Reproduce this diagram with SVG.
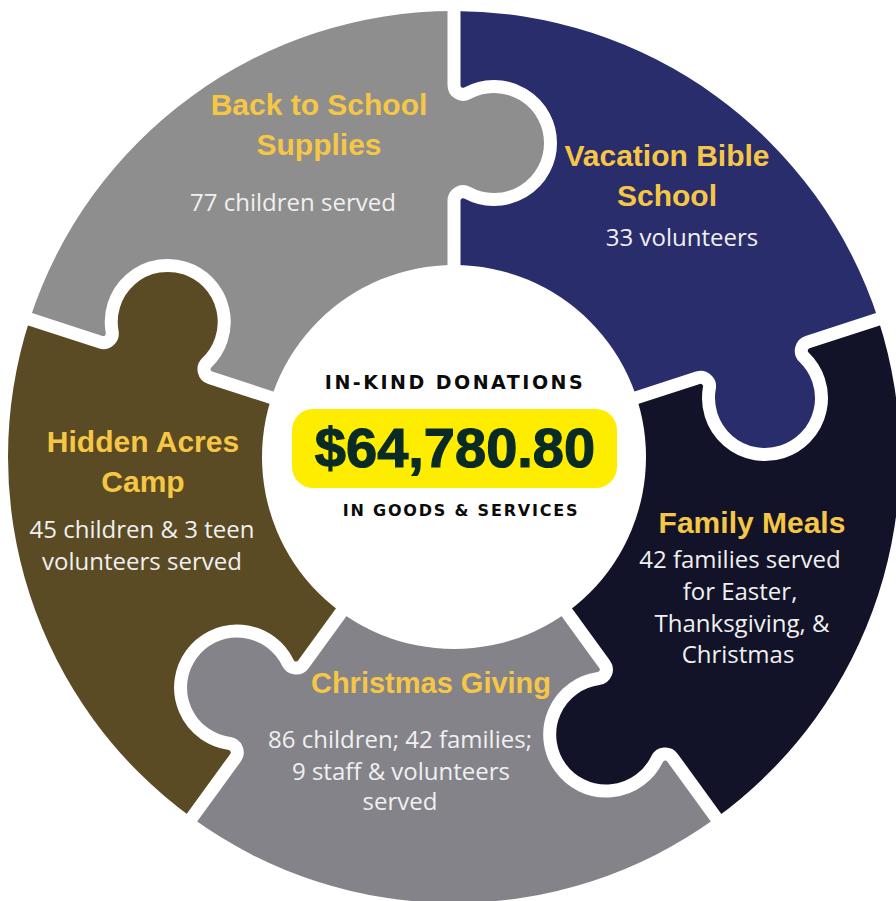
<svg xmlns="http://www.w3.org/2000/svg" width="896" height="901" viewBox="0 0 896 901">
<style>
.t{font-family:"Liberation Sans",Arial,sans-serif;font-weight:700;font-size:30px;fill:#f6c744;text-anchor:middle}
.b{font-family:"Open Sans","Liberation Sans",sans-serif;font-size:24px;fill:#f0f0f0;text-anchor:middle}
.h{font-family:"DejaVu Sans",sans-serif;font-weight:700;fill:#0b0b0b;text-anchor:middle}
.gap{fill:none;stroke:#ffffff;stroke-width:13;stroke-linejoin:round}
</style>
<defs>
<path id="divider" d="M150 0 L256.3 0 A9 9 0 0 1 264.23 13.26 A56.5 56.5 0 1 0 363.77 13.26 A9 9 0 0 1 371.7 0 L470 0"/>
</defs>
<rect width="896" height="901" fill="#ffffff"/>
<g id="back-to-school">
<path fill="#8e8e8e" d="M454 457 L210.24 377.80 A9 9 0 0 1 206.80 362.74 A56.5 56.5 0 1 0 112.13 331.98 A9 9 0 0 1 100.49 342.14 L29.83 319.18 A446 446 0 0 1 454 11 L454 85.30 A9 9 0 0 0 467.26 93.23 A56.5 56.5 0 1 1 467.26 192.77 A9 9 0 0 0 454 200.70 Z"/>
<text class="t" x="319" y="115">Back to School</text>
<text class="t" x="319" y="155">Supplies</text>
<text class="b" x="293" y="211">77 children served</text>
</g>
<g id="vacation-bible-school">
<path fill="#2a2d6c" d="M454 457 L454 200.70 A9 9 0 0 1 467.26 192.77 A56.5 56.5 0 1 0 467.26 93.23 A9 9 0 0 1 454 85.30 L454 11 A446 446 0 0 1 878.17 319.18 L807.51 342.14 A9 9 0 0 0 804.07 357.20 A56.5 56.5 0 1 1 709.40 387.96 A9 9 0 0 0 697.76 377.80 Z"/>
<text class="t" x="667" y="166">Vacation Bible</text>
<text class="t" x="667" y="206">School</text>
<text class="b" x="682" y="246">33 volunteers</text>
</g>
<g id="family-meals">
<path fill="#121328" d="M454 457 L697.76 377.80 A9 9 0 0 1 709.40 387.96 A56.5 56.5 0 1 0 804.07 357.20 A9 9 0 0 1 807.51 342.14 L878.17 319.18 A446 446 0 0 1 716.15 817.82 L672.48 757.71 A9 9 0 0 0 657.09 759.09 A56.5 56.5 0 1 1 598.58 678.56 A9 9 0 0 0 604.65 664.35 Z"/>
<text class="t" x="752" y="533">Family Meals</text>
<text class="b" x="740" y="568">42 families served</text>
<text class="b" x="740" y="600">for Easter,</text>
<text class="b" x="742" y="632">Thanksgiving, &amp;</text>
<text class="b" x="738" y="663">Christmas</text>
</g>
<g id="christmas-giving">
<path fill="#84838a" d="M454 457 L604.65 664.35 A9 9 0 0 1 598.58 678.56 A56.5 56.5 0 1 0 657.09 759.09 A9 9 0 0 1 672.48 757.71 L716.15 817.82 A446 446 0 0 1 191.85 817.82 L235.52 757.71 A9 9 0 0 0 229.45 743.51 A56.5 56.5 0 1 1 287.96 662.98 A9 9 0 0 0 303.35 664.35 Z"/>
<text class="t" x="431" y="693" style="font-size:29px">Christmas Giving</text>
<text class="b" x="400" y="748">86 children; 42 families;</text>
<text class="b" x="401" y="780">9 staff &amp; volunteers</text>
<text class="b" x="400" y="810">served</text>
</g>
<g id="hidden-acres-camp">
<path fill="#5a4b25" d="M454 457 L303.35 664.35 A9 9 0 0 1 287.96 662.98 A56.5 56.5 0 1 0 229.45 743.51 A9 9 0 0 1 235.52 757.71 L191.85 817.82 A446 446 0 0 1 29.83 319.18 L100.49 342.14 A9 9 0 0 0 112.13 331.98 A56.5 56.5 0 1 1 206.80 362.74 A9 9 0 0 0 210.24 377.80 Z"/>
<text class="t" x="143" y="452">Hidden Acres</text>
<text class="t" x="143" y="492">Camp</text>
<text class="b" x="142" y="538">45 children &amp; 3 teen</text>
<text class="b" x="142" y="570">volunteers served</text>
</g>
<g id="connectors">
<use href="#divider" class="gap" transform="translate(454 457) rotate(270)"/>
<use href="#divider" class="gap" transform="translate(454 457) rotate(342)"/>
<use href="#divider" class="gap" transform="translate(454 457) rotate(54)"/>
<use href="#divider" class="gap" transform="translate(454 457) rotate(126)"/>
<use href="#divider" class="gap" transform="translate(454 457) rotate(198)"/>
</g>
<g id="center">
<circle cx="454" cy="457" r="192" fill="#ffffff"/>
<text class="h" x="455" y="389" style="font-size:19px;letter-spacing:2.5px">IN-KIND DONATIONS</text>
<rect x="292" y="409" width="325" height="79" rx="21" fill="#ffed00"/>
<text x="455" y="467" style="font-family:'Liberation Sans',Arial,sans-serif;font-weight:700;font-size:56px;fill:#0a2b25;stroke:#0a2b25;stroke-width:1.2;text-anchor:middle">$64,780.80</text>
<text class="h" x="461" y="516" style="font-size:16px;letter-spacing:1.8px">IN GOODS &amp; SERVICES</text>
</g>
</svg>
